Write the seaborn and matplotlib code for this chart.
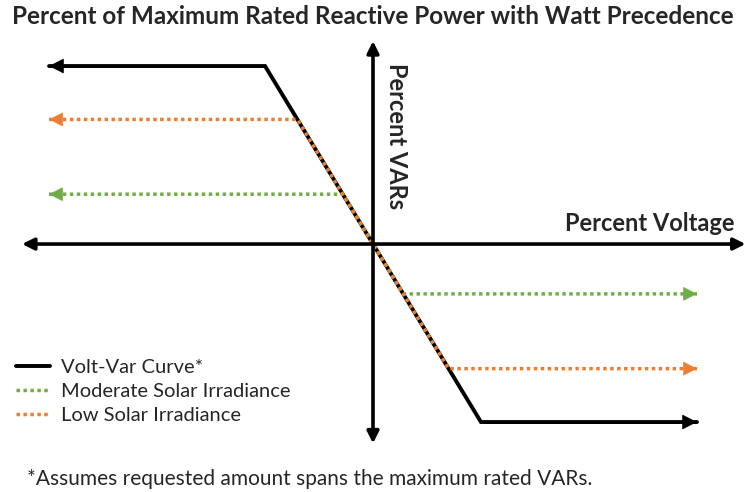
import pandas as pd
import matplotlib
matplotlib.use('Agg')
import matplotlib.pyplot as plt
import seaborn as sns

# Curve data (x: percent voltage, arbitrary scale; y: percent of max VARs)
volt_var_x = [-30, -10, 10, 30]
volt_var_y = [100, 100, -100, -100]
moderate_x = [-30, -2.8, 2.8, 30]
moderate_y = [28, 28, -28, -28]
low_x = [-30, -7, 7, 30]
low_y = [70, 70, -70, -70]

# Extent of the drawn axes
axis_x = [-32.5, 34.5]
axis_y = [-112, 114]

labels = ['Volt-Var Curve*', 'Moderate Solar Irradiance', 'Low Solar Irradiance']
colors = ['black', '#70AD47', '#ED7D31']

sns.set_theme(style='white')
plt.rcParams['font.family'] = ['Lato', 'DejaVu Sans']


def arrow_head(ax, xs, ys, color, scale):
    # put a triangular head on both ends of a polyline
    for (xa, ya), (xb, yb) in [((xs[1], ys[1]), (xs[0], ys[0])),
                               ((xs[-2], ys[-2]), (xs[-1], ys[-1]))]:
        step = 0.5 if xb > xa else -0.5
        ax.annotate('', xy=(xb, yb), xytext=(xb - step, yb),
                    arrowprops=dict(arrowstyle='-|>,head_length=0.65,head_width=0.33',
                                    mutation_scale=scale, color=color, lw=0.5,
                                    shrinkA=0, shrinkB=0))


fig = plt.figure(figsize=(7.46, 4.92), dpi=100)
ax = fig.add_axes([0, 0, 1, 1])
ax.set_xlim(-34.54, 34.54)
ax.set_ylim(-139.3, 137.1)
ax.axis('off')

# axes with arrows
for (x0, y0), (x1, y1) in [((axis_x[0], 0), (axis_x[1], 0)), ((0, axis_y[0]), (0, axis_y[1]))]:
    ax.annotate('', xy=(x1, y1), xytext=(x0, y0),
                arrowprops=dict(arrowstyle='<|-|>,head_length=0.5,head_width=0.25',
                                mutation_scale=14, color='black', lw=2.6,
                                shrinkA=0, shrinkB=0))

sns.lineplot(x=volt_var_x, y=volt_var_y, sort=False, color=colors[0], lw=2.8,
             label=labels[0], ax=ax)
sns.lineplot(x=moderate_x, y=moderate_y, sort=False, color=colors[1], lw=2.5,
             linestyle=(0, (1, 1)), label=labels[1], ax=ax)
sns.lineplot(x=low_x, y=low_y, sort=False, color=colors[2], lw=2.5,
             linestyle=(0, (1, 1)), label=labels[2], ax=ax)
for line in ax.lines:
    line.set_dash_capstyle('butt')
    line.set_solid_joinstyle('miter')

arrow_head(ax, volt_var_x, volt_var_y, colors[0], 15)
arrow_head(ax, moderate_x, moderate_y, colors[1], 14)
arrow_head(ax, low_x, low_y, colors[2], 14)

ax.legend(loc='upper left', bbox_to_anchor=(0.022, 0.271), frameon=False,
          fontsize=14.5, handlelength=1.65, handletextpad=0.55, labelspacing=0.35,
          borderaxespad=0, borderpad=0)

ax.text(0.985, 0.545, 'Percent Voltage', transform=ax.transAxes, ha='right',
        va='center', fontsize=17, fontweight='bold')
ax.text(0.532, 0.872, 'Percent VARs', transform=ax.transAxes, ha='center',
        va='top', rotation=270, fontsize=17, fontweight='bold')

fig.text(0.5, 1 - 17 / 492, 'Percent of Maximum Rated Reactive Power with Watt Precedence',
         ha='center', va='center', fontsize=17.5, fontweight='bold')
fig.text(27 / 746, 1 - 479 / 492, '*Assumes requested amount spans the maximum rated VARs.',
         ha='left', va='center', fontsize=15)

fig.savefig('out.png', dpi=100)
